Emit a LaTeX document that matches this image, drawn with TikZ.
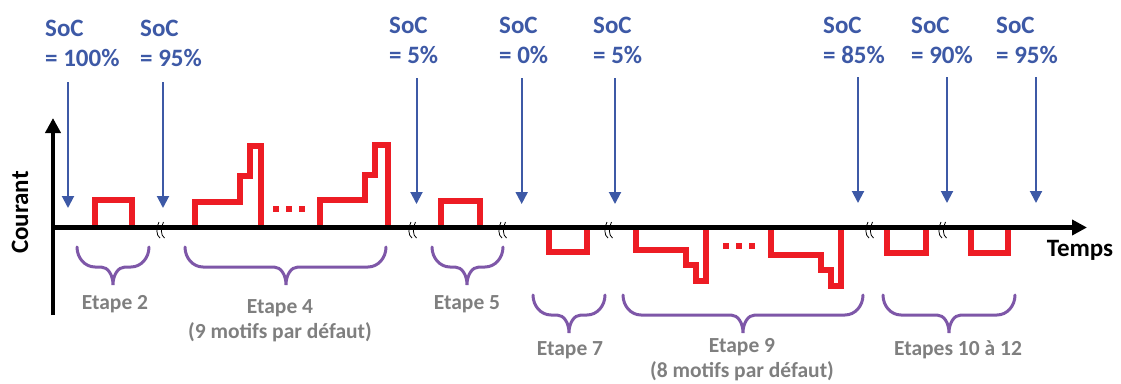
\documentclass[tikz,border=0pt]{standalone}
\usepackage{fontspec}
\setmainfont{Carlito}
\usetikzlibrary{arrows.meta}
\definecolor{socblue}{HTML}{3D59A6}
\definecolor{pulse}{HTML}{ED1C24}
\definecolor{bracevio}{HTML}{7E57A8}
\definecolor{labgray}{HTML}{7F7F7F}
\tikzset{
  soc/.style={font=\fontsize{25}{30.5}\selectfont\bfseries, text=socblue,
              align=left, anchor=base west, inner sep=0pt},
  etape/.style={font=\fontsize{21.5}{25}\selectfont\bfseries, text=labgray,
                align=center, anchor=base, inner sep=0pt},
  axlab/.style={font=\fontsize{25}{30}\selectfont\bfseries, text=black,
                anchor=base, inner sep=0pt},
  axe/.style={-{Triangle[length=15pt,width=15pt]}, line width=4.5pt, draw=black},
  fleche/.style={-{Triangle[length=12pt,width=12pt]}, line width=2pt, draw=socblue},
  signal/.style={draw=pulse, line width=5.5pt, line join=miter},
  motifdots/.style={draw=pulse, line width=6pt, dash pattern=on 6pt off 7pt},
  accol/.style={draw=bracevio, line width=3pt, line cap=round},
  coupure/.pic={
    \draw[line width=0.8pt] (-1,-5.5) .. controls (-4,0) and (-4,8) .. (0,10.5);
    \draw[line width=0.8pt] (3.5,-5.5) .. controls (0.5,0) and (0.5,8) .. (4.5,10.5);
  },
}

\begin{document}
\begin{tikzpicture}[x=1pt,y=-1pt]
\useasboundingbox (0,0) rectangle (1121,383);

% ---------------- SoC labels ----------------
\node[soc] (soc1) at (45,66.5)    {SoC\\= 100\%};
\node[soc] (soc2) at (140,66.5)   {SoC\\= 95\%};
\node[soc] (soc3) at (389,63.5)   {SoC\\= 5\%};
\node[soc] (soc4) at (499,63.5)   {SoC\\= 0\%};
\node[soc] (soc5) at (593,63.5)   {SoC\\= 5\%};
\node[soc] (soc6) at (823,63.5)   {SoC\\= 85\%};
\node[soc] (soc7) at (911,63.5)   {SoC\\= 90\%};
\node[soc] (soc8) at (996,63.5)   {SoC\\= 95\%};

\coordinate (h1) at (68,82);    \coordinate (p1) at (68,208);
\coordinate (h2) at (163,82);   \coordinate (p2) at (163,208);
\coordinate (h3) at (416.5,78); \coordinate (p3) at (416.5,204);
\coordinate (h4) at (521.7,78); \coordinate (p4) at (521.7,204);
\coordinate (h5) at (615,78);   \coordinate (p5) at (615,204);
\coordinate (h6) at (858,77);   \coordinate (p6) at (858,203);
\coordinate (h7) at (947,77);   \coordinate (p7) at (947,203);
\coordinate (h8) at (1036,77);  \coordinate (p8) at (1036,203);

% ---------------- current profile ----------------
% etape 2
\draw[signal] (95,227) -- (95,200) -- (132,200) -- (132,227);
% etape 4
\draw[signal] (195,227) -- (195,202) -- (240,202) -- (240,176) -- (250,176)
  -- (250,146) -- (261,146) -- (261,227);
\draw[motifdots] (273,209) -- (306,209);
\draw[signal] (320,227) -- (320,200) -- (365,200) -- (365,175) -- (375,175)
  -- (375,145) -- (388,145) -- (388,227);
% etape 5
\draw[signal] (441,227) -- (441,201) -- (480,201) -- (480,227);
% etape 7
\draw[signal] (549,227) -- (549,252) -- (587,252) -- (587,227);
% etape 9
\draw[signal] (636,227) -- (636,250) -- (686,250) -- (686,265) -- (696,265)
  -- (696,281) -- (706,281) -- (706,227);
\draw[motifdots] (723,246) -- (756,246);
\draw[signal] (771,227) -- (771,255) -- (821,255) -- (821,270) -- (831,270)
  -- (831,286) -- (841,286) -- (841,227);
% etapes 10 a 12
\draw[signal] (887,227) -- (887,253) -- (926,253) -- (926,227);
\draw[signal] (971,227) -- (971,253) -- (1008,253) -- (1008,227);

% ---------------- axes ----------------
\coordinate (O) at (53,227.5);
\coordinate (xmax) at (1087,227.5);
\coordinate (ymin) at (53,315);
\coordinate (ymax) at (53,118);
\draw[axe] (O) -- (xmax);
\draw[axe] (ymin) -- (ymax);
\node[axlab] (temps) at (1080,256) {Temps};
\node[axlab, rotate=90] (courant) at (28,212.5) {Courant};

\pic at (160,227.5) {coupure};
\pic at (412,227.5) {coupure};
\pic at (502,227.5) {coupure};
\pic at (608,227.5) {coupure};
\pic at (869,227.5) {coupure};
\pic at (942,227.5) {coupure};

% ---------------- arrows ----------------
\draw[fleche] (h1) -- (p1);
\draw[fleche] (h2) -- (p2);
\draw[fleche] (h3) -- (p3);
\draw[fleche] (h4) -- (p4);
\draw[fleche] (h5) -- (p5);
\draw[fleche] (h6) -- (p6);
\draw[fleche] (h7) -- (p7);
\draw[fleche] (h8) -- (p8);

% ---------------- braces and steps ----------------
\draw[accol] (77,247) .. controls +(0,11) and +(-10,0) .. (95,267) -- (101,267)
  .. controls +(7,0) and +(0,-10) .. (113,285) .. controls +(0,-10) and +(-7,0) .. (125,267)
  -- (131,267) .. controls +(10,0) and +(0,11) .. (149,247);
\draw[accol] (185,247) .. controls +(0,11) and +(-10,0) .. (203,267) -- (274,267)
  .. controls +(7,0) and +(0,-10) .. (286,285) .. controls +(0,-10) and +(-7,0) .. (298,267)
  -- (368,267) .. controls +(10,0) and +(0,11) .. (386,247);
\draw[accol] (432,247) .. controls +(0,11) and +(-10,0) .. (450,267) -- (455,267)
  .. controls +(7,0) and +(0,-10) .. (467,285) .. controls +(0,-10) and +(-7,0) .. (479,267)
  -- (485,267) .. controls +(10,0) and +(0,11) .. (503,247);
\draw[accol] (533,295) .. controls +(0,11) and +(-10,0) .. (551,315) -- (557,315)
  .. controls +(7,0) and +(0,-10) .. (569,333) .. controls +(0,-10) and +(-7,0) .. (581,315)
  -- (587,315) .. controls +(10,0) and +(0,11) .. (605,295);
\draw[accol] (623,295) .. controls +(0,11) and +(-10,0) .. (641,315) -- (731,315)
  .. controls +(7,0) and +(0,-10) .. (743,333) .. controls +(0,-10) and +(-7,0) .. (755,315)
  -- (845,315) .. controls +(10,0) and +(0,11) .. (863,295);
\draw[accol] (883,295) .. controls +(0,11) and +(-10,0) .. (901,315) -- (937,315)
  .. controls +(7,0) and +(0,-10) .. (949,333) .. controls +(0,-10) and +(-7,0) .. (961,315)
  -- (997,315) .. controls +(10,0) and +(0,11) .. (1015,295);

\node[etape] (e2)  at (115,309) {Etape 2};
\node[etape] (e4)  at (280,338.5) {Etape 4\\(9 motifs par défaut)};
\node[etape] (e5)  at (467,309) {Etape 5};
\node[etape] (e7)  at (570,355) {Etape 7};
\node[etape] (e9)  at (742,377) {Etape 9\\(8 motifs par défaut)};
\node[etape] (e10) at (958,355) {Etapes 10 à 12};

\end{tikzpicture}
\end{document}
